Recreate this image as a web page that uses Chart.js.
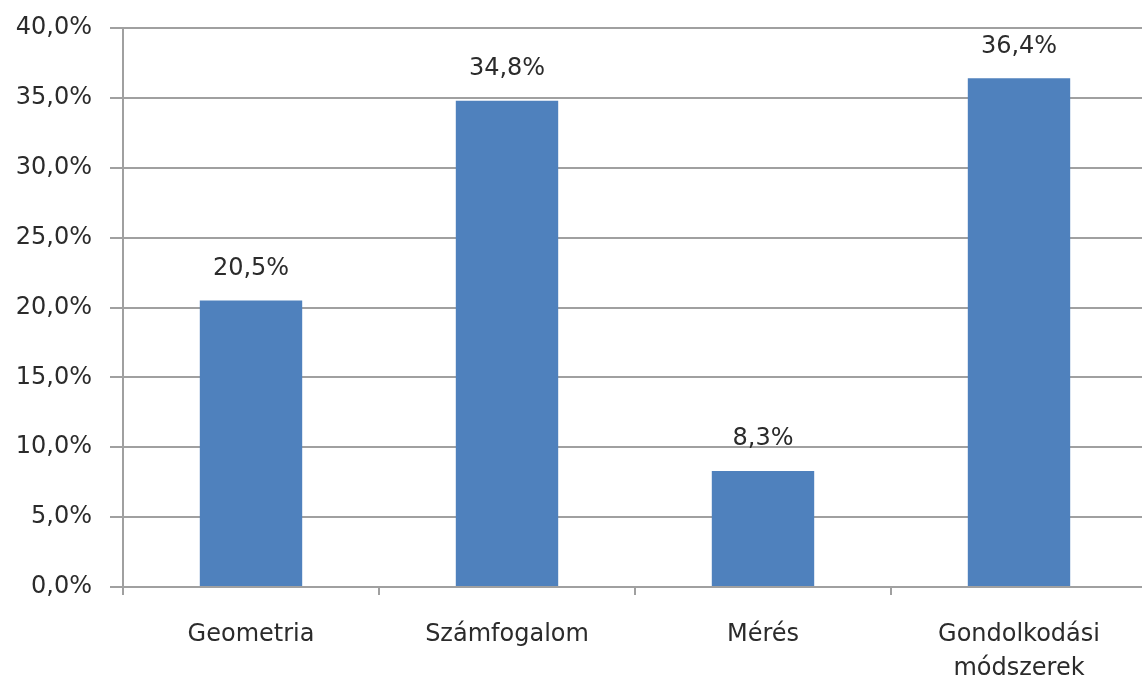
<!DOCTYPE html>
<html>
<head>
<meta charset="utf-8">
<script src="https://cdn.jsdelivr.net/npm/chart.js@4.4.0/dist/chart.umd.min.js"></script>
<style>
  html, body { margin: 0; padding: 0; background: #fff; overflow: hidden; }
  #wrap { width: 1147px; height: 682px; }
</style>
</head>
<body>
<div id="wrap"><canvas id="myChart"></canvas></div>
<script>
var categories = ['Geometria', 'Számfogalom', 'Mérés', ['Gondolkodási', 'módszerek']]
var values = [20.5, 34.8, 8.3, 36.4]
var yTicks = [0, 5, 10, 15, 20, 25, 30, 35, 40]

function pct(v){
  return v.toFixed(1).replace('.', ',') + '%'
}

// draws the value above each bar
var barLabels = {
  id: 'barLabels',
  afterDatasetsDraw: function(chart){
    var ctx = chart.ctx
    var meta = chart.getDatasetMeta(0)
    ctx.save()
    ctx.font = '24px "DejaVu Sans"'
    ctx.fillStyle = '#2b2b2b'
    ctx.textAlign = 'center'
    ctx.textBaseline = 'bottom'
    meta.data.forEach(function(bar, i){
      ctx.fillText(pct(values[i]), bar.x, bar.y - 20)
    })
    ctx.restore()
  }
}

var myChart = document.getElementById('myChart').getContext('2d')

var chart = new Chart(myChart, {
  type: 'bar',
  data: {
    labels: categories,
    datasets: [{
      data: values,
      backgroundColor: '#4F81BD',
      categoryPercentage: 1,
      barPercentage: 0.4
    }]
  },
  options: {
    responsive: true,
    maintainAspectRatio: false,
    animation: false,
    layout: { padding: { top: 28, right: 0, left: 0, bottom: 0 } },
    plugins: { legend: { display: false }, tooltip: { enabled: false } },
    scales: {
      x: {
        grid: { display: true, offset: true, drawOnChartArea: false, drawTicks: true, tickLength: 8, color: '#A0A0A0', lineWidth: 2 },
        border: { color: '#A0A0A0', width: 2 },
        ticks: { color: '#2b2b2b', padding: 22, font: { family: 'DejaVu Sans', size: 24, lineHeight: 1.45 }, maxRotation: 0 },
        afterFit: function(scale){ scale.height = 95 }
      },
      y: {
        min: 0,
        max: 40,
        afterBuildTicks: function(scale){
          scale.ticks = yTicks.map(function(v){ return { value: v } })
        },
        grid: { color: '#A0A0A0', lineWidth: 2, tickLength: 13 },
        border: { color: '#A0A0A0', width: 2 },
        ticks: {
          color: '#2b2b2b',
          padding: 18,
          font: { family: 'DejaVu Sans', size: 24 },
          callback: function(v){ return pct(v) }
        },
        afterFit: function(scale){
          scale.width = 123
          scale.paddingTop = 0
          scale.paddingBottom = 0
        }
      }
    }
  },
  plugins: [barLabels]
})
</script>
</body>
</html>
